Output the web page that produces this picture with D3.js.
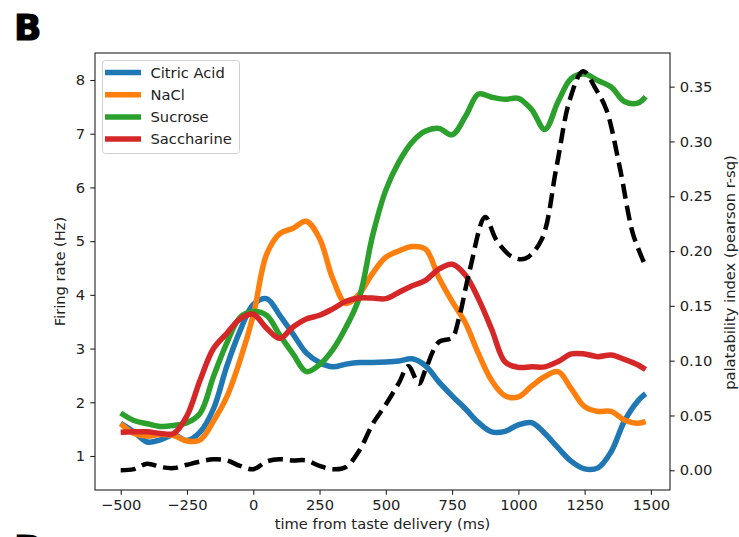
<!DOCTYPE html>
<html>
<head>
<meta charset="utf-8">
<script src="https://cdn.jsdelivr.net/npm/d3@7"></script>
<style>
body { margin: 0; background: #fff; }
text { font-family: "DejaVu Sans", sans-serif; }
</style>
</head>
<body>
<div id="graphArea"></div>
<script>
// time axis (ms from taste delivery), shared by the four firing-rate traces
var time = [-500,-450,-400,-350,-300,-250,-200,-150,-100,-50,
  0,50,100,150,200,250,300,350,400,450,
  500,550,600,650,700,750,800,850,900,950,
  1000,1050,1100,1150,1200,1250,1300,1350,1400,1450,1480];

var citricAcid = [1.61,1.45,1.26,1.30,1.39,1.29,1.45,1.88,2.67,3.33,
  3.82,3.93,3.62,3.27,2.92,2.74,2.66,2.71,2.74,2.74,
  2.75,2.77,2.81,2.68,2.38,2.12,1.88,1.62,1.45,1.46,
  1.58,1.62,1.42,1.15,0.90,0.76,0.78,1.08,1.65,2.02,2.16];

var nacl = [1.60,1.42,1.37,1.40,1.38,1.28,1.30,1.65,2.10,2.78,
  3.62,4.75,5.14,5.24,5.37,5.05,4.30,3.84,4.02,4.40,
  4.70,4.82,4.90,4.85,4.32,3.88,3.48,2.90,2.40,2.12,
  2.10,2.30,2.48,2.57,2.25,1.92,1.83,1.83,1.67,1.61,1.64];

var sucrose = [1.80,1.66,1.60,1.55,1.57,1.62,1.80,2.48,3.10,3.58,
  3.69,3.62,3.25,2.90,2.57,2.70,2.98,3.40,3.95,5.10,
  5.95,6.48,6.85,7.05,7.10,6.98,7.32,7.74,7.68,7.64,
  7.66,7.45,7.08,7.60,8.03,8.11,7.99,7.87,7.60,7.57,7.69];

var saccharine = [1.44,1.45,1.45,1.42,1.42,1.75,2.42,3.00,3.28,3.55,
  3.64,3.38,3.19,3.40,3.55,3.62,3.74,3.88,3.94,3.94,
  3.93,4.05,4.17,4.27,4.48,4.57,4.37,3.92,3.35,2.75,
  2.65,2.66,2.66,2.76,2.90,2.90,2.85,2.88,2.80,2.70,2.61];

// palatability index (right axis)
var palTime = [-500,-450,-400,-350,-300,-250,-200,-150,-100,-50,
  0,50,100,150,200,250,300,350,400,450,
  500,550,585,625,650,700,750,775,817,875,
  917,975,1025,1087,1144,1194,1244,1294,1332,1382,1432,1475];
var palatability = [0.000,0.001,0.006,0.003,0.002,0.005,0.008,0.010,0.009,0.004,
  0.001,0.008,0.010,0.009,0.009,0.004,0.001,0.003,0.018,0.042,
  0.060,0.080,0.095,0.079,0.092,0.117,0.121,0.138,0.183,0.231,
  0.210,0.195,0.193,0.210,0.277,0.338,0.364,0.347,0.329,0.277,0.216,0.189];

var tastes = ["Citric Acid", "NaCl", "Sucrose", "Saccharine"];
var colors = ["#1f77b4", "#ff7f0e", "#2ca02c", "#d62728"];
var xTicks = [-500,-250,0,250,500,750,1000,1250,1500];
var yTicks = [1,2,3,4,5,6,7,8];
var palTicks = [0,0.05,0.10,0.15,0.20,0.25,0.30,0.35];

var series = [citricAcid, nacl, sucrose, saccharine];

var plotL = 95, plotR = 670, plotT = 53, plotB = 490;

var svg = d3.select("#graphArea")
  .append("svg")
    .attr("width", 739)
    .attr("height", 537);

var x = d3.scaleLinear().domain([-597, 1572]).range([plotL, plotR]);
var y = d3.scaleLinear().domain([0.367, 8.503]).range([plotB, plotT]);
var y2 = d3.scaleLinear().domain([-0.018, 0.3807]).range([plotB, plotT]);

// panel letters
svg.append("text")
  .attr("x", 14).attr("y", 39.5)
  .attr("font-size", 36).attr("font-weight", "bold")
  .attr("stroke", "#000").attr("stroke-width", 1.2)
  .text("B");
svg.append("text")
  .attr("x", 14).attr("y", 561)
  .attr("font-size", 36).attr("font-weight", "bold")
  .attr("stroke", "#000").attr("stroke-width", 1.2)
  .text("D");

// axes
var xAxis = svg.append("g")
  .attr("transform", "translate(0," + plotB + ")")
  .call(d3.axisBottom(x).tickValues(xTicks).tickFormat(d3.format("d")).tickSize(4.7).tickPadding(4.5).tickSizeOuter(0));
var yAxis = svg.append("g")
  .attr("transform", "translate(" + plotL + ",0)")
  .call(d3.axisLeft(y).tickValues(yTicks).tickSize(4.7).tickPadding(5.3).tickSizeOuter(0));
var y2Axis = svg.append("g")
  .attr("transform", "translate(" + plotR + ",0)")
  .call(d3.axisRight(y2).tickValues(palTicks).tickFormat(d3.format(".2f")).tickSize(4.7).tickPadding(5).tickSizeOuter(0));

[xAxis, yAxis, y2Axis].forEach(function(g) {
  g.select(".domain").remove();
  g.selectAll(".tick line").attr("stroke", "#222").attr("stroke-width", 1.1);
  g.selectAll(".tick text")
    .attr("fill", "#222")
    .style("font-family", "DejaVu Sans")
    .style("font-size", "14.7px");
});

// lines
var line = d3.line()
  .x(function(d) { return x(d[0]); })
  .y(function(d) { return y(d[1]); })
  .curve(d3.curveCatmullRom.alpha(0.5));

series.forEach(function(vals, i) {
  svg.append("path")
    .datum(time.map(function(t, j) { return [t, vals[j]]; }))
    .attr("fill", "none")
    .attr("stroke", colors[i])
    .attr("stroke-width", 5.5)
    .attr("stroke-linejoin", "round")
    .attr("d", line);
});

var palLine = d3.line()
  .x(function(d) { return x(d[0]); })
  .y(function(d) { return y2(d[1]); })
  .curve(d3.curveCatmullRom.alpha(0.5));

svg.append("path")
  .datum(palTime.map(function(t, j) { return [t, palatability[j]]; }))
  .attr("fill", "none")
  .attr("stroke", "#000")
  .attr("stroke-width", 4.5)
  .attr("stroke-dasharray", "15,7")
  .attr("d", palLine);

// frame
svg.append("rect")
  .attr("x", plotL).attr("y", plotT)
  .attr("width", plotR - plotL).attr("height", plotB - plotT)
  .attr("fill", "none").attr("stroke", "#222").attr("stroke-width", 1.1);

// legend
var legend = svg.append("g");
legend.append("rect")
  .attr("x", 102.5).attr("y", 60.5)
  .attr("width", 137).attr("height", 93)
  .attr("rx", 3)
  .attr("fill", "#fff").attr("fill-opacity", 0.8)
  .attr("stroke", "#d0d0d0");
tastes.forEach(function(name, i) {
  var ly = 72.5 + i * 22.2;
  legend.append("line")
    .attr("x1", 105).attr("x2", 141)
    .attr("y1", ly).attr("y2", ly)
    .attr("stroke", colors[i]).attr("stroke-width", 5.5);
  legend.append("text")
    .attr("x", 150.5).attr("y", ly)
    .attr("dy", "0.36em")
    .attr("font-size", 14.7).attr("fill", "#222")
    .text(name);
});

// axis labels
svg.append("text")
  .attr("x", 382.5).attr("y", 529)
  .attr("text-anchor", "middle")
  .attr("font-size", 14.7).attr("fill", "#222")
  .text("time from taste delivery (ms)");
svg.append("text")
  .attr("transform", "translate(60,271.5)rotate(-90)")
  .attr("text-anchor", "middle").attr("dy", "0.36em")
  .attr("font-size", 14.7).attr("fill", "#222")
  .text("Firing rate (Hz)");
svg.append("text")
  .attr("transform", "translate(730,272.5)rotate(-90)")
  .attr("text-anchor", "middle").attr("dy", "0.36em")
  .attr("font-size", 14.7).attr("fill", "#222")
  .text("palatability index (pearson r-sq)");
</script>
</body>
</html>
